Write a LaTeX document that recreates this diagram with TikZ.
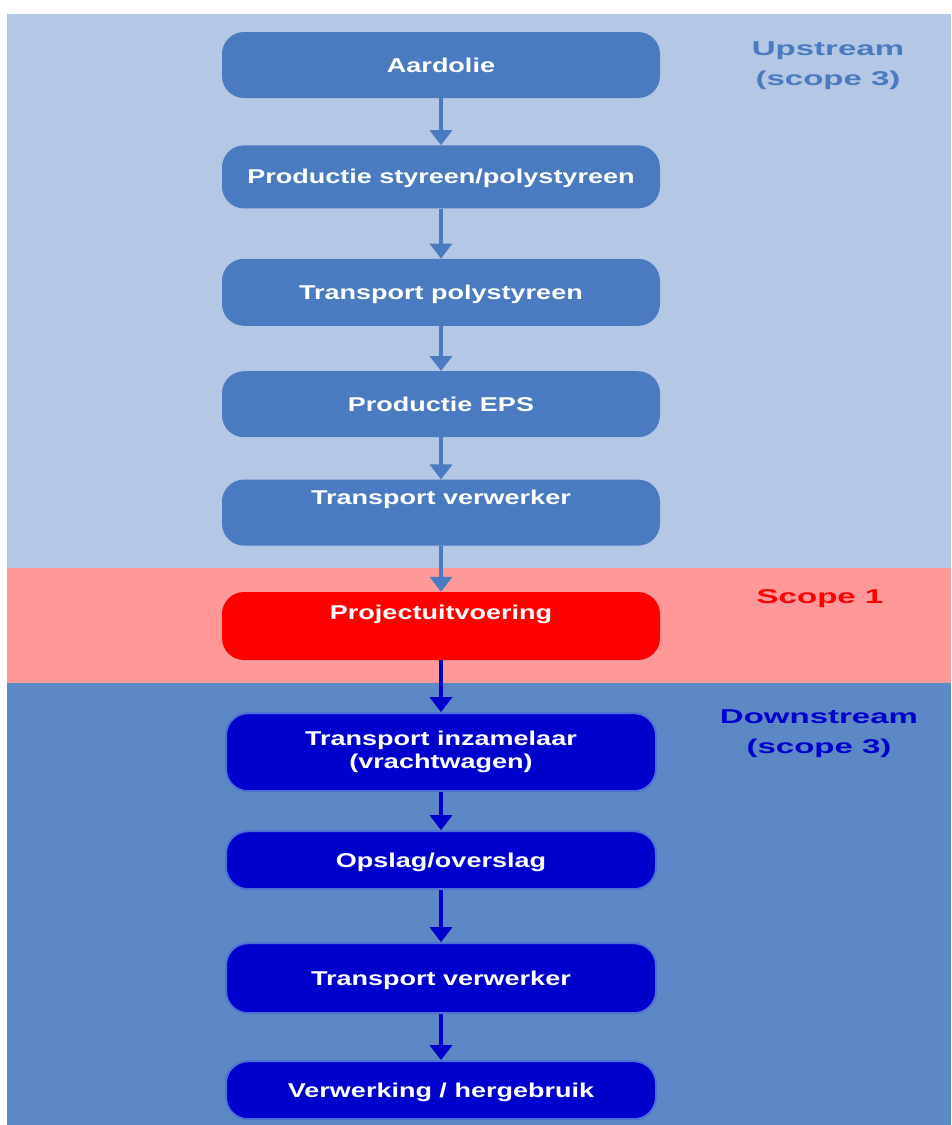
\documentclass[tikz,border=0pt]{standalone}
\usepackage{fontspec}
\setmainfont{Liberation Sans}
\newfontfamily\boxfont[FakeStretch=1.35]{Liberation Sans}
\newfontfamily\scopefont[FakeStretch=1.65]{Liberation Sans}
\usepackage{tikz}
\usetikzlibrary{arrows.meta,positioning}
\definecolor{UpBand}{HTML}{B4C7E4}
\definecolor{UpBox}{HTML}{4A7AC0}
\definecolor{RedBand}{HTML}{FF9999}
\definecolor{RedBox}{HTML}{FF0000}
\definecolor{DownBand}{HTML}{5D88C6}
\definecolor{DownBox}{HTML}{0000CC}
\definecolor{DownEdge}{HTML}{4E72D4}
\tikzset{
  upbox/.style={fill=UpBox,rounded corners=22pt,minimum width=438pt,minimum height=66pt,
              inner sep=0pt,text=white,text height=14pt,text depth=0pt,
              font=\boxfont\bfseries\fontsize{20}{23}\selectfont},
  redbox/.style={upbox,fill=RedBox},
  downbox/.style={upbox,fill=DownBox,draw=DownEdge,line width=2pt,minimum width=430pt},
  upflow/.style={-{Triangle[width=22pt,length=15pt]},line width=3.5pt,draw=UpBox},
  downflow/.style={-{Triangle[width=22pt,length=15pt]},line width=3.5pt,draw=DownBox},
  scope/.style={align=center,font=\scopefont\bfseries\fontsize{20}{30}\selectfont}
}
\begin{document}
\begin{tikzpicture}[x=1pt,y=-1pt]
  \useasboundingbox (0,0) rectangle (951,1125);
  % bands
  \fill[UpBand] (7,14) rectangle (951,568);
  \fill[RedBand] (7,568) rectangle (951,683);
  \fill[DownBand] (7,683) rectangle (951,1125);

  % upstream chain
  \node[upbox] (crude) at (441,65) {Aardolie};
  \node[upbox,below=47pt of crude,minimum height=63pt] (styrene) {Productie styreen/polystyreen};
  \node[upbox,below=50pt of styrene,minimum height=67pt] (pstrans) {Transport polystyreen};
  \node[upbox,below=45pt of pstrans] (eps) {Productie EPS};
  \node[upbox,below=42pt of eps,text depth=30pt] (uptrans) {Transport verwerker};
  \node[redbox,below=46pt of uptrans,minimum height=68pt,text depth=28pt] (project) {Projectuitvoering};

  % downstream chain
  \node[downbox,below=52pt of project,minimum height=78pt,align=center,text height=,text depth=] (collect) {Transport inzamelaar\\(vrachtwagen)};
  \node[downbox,below=38pt of collect,minimum height=58pt] (storage) {Opslag/overslag};
  \node[downbox,below=52pt of storage,minimum height=70pt] (downtrans) {Transport verwerker};
  \node[downbox,below=46pt of downtrans,minimum height=58pt] (reuse) {Verwerking / hergebruik};

  % scope labels
  \node[scope,text=UpBox] (uplabel) at (828,66) {Upstream\\(scope 3)};
  \node[scope,text=RedBox] (redlabel) at (820,599) {Scope 1};
  \node[scope,text=DownBox] (downlabel) at (819,734) {Downstream\\(scope 3)};

  \draw[upflow] (crude) -- (styrene);
  \draw[upflow] (styrene) -- (pstrans);
  \draw[upflow] (pstrans) -- (eps);
  \draw[upflow] (eps) -- (uptrans);
  \draw[upflow] (uptrans) -- (project);
  \draw[downflow] (project) -- (collect);
  \draw[downflow] (collect) -- (storage);
  \draw[downflow] (storage) -- (downtrans);
  \draw[downflow] (downtrans) -- (reuse);
\end{tikzpicture}
\end{document}
